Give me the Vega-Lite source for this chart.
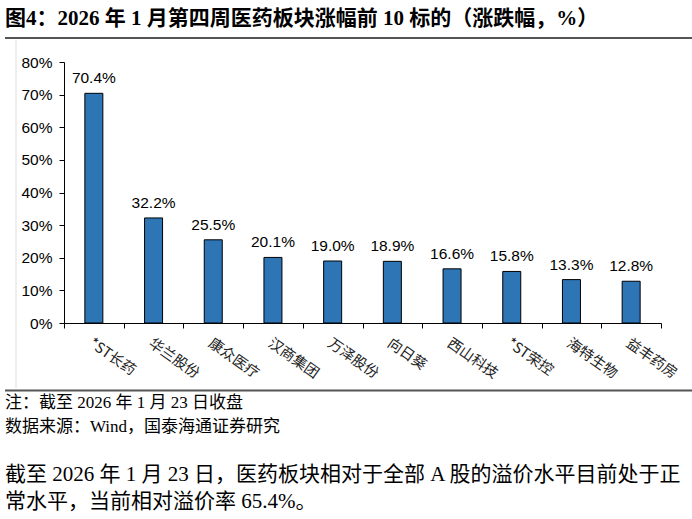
{
  "$schema": "https://vega.github.io/schema/vega-lite/v6.json",
  "width": 597,
  "height": 261,
  "autosize": "none",
  "padding": {"left": 64, "top": 62, "right": 31, "bottom": 196},
  "background": "white",
  "config": {"view": {"stroke": null}},
  "title": {
    "text": "图4：2026 年 1 月第四周医药板块涨幅前 10 标的（涨跌幅，%）",
    "anchor": "start",
    "frame": "group",
    "dx": -59,
    "offset": 8,
    "font": "Liberation Serif, Noto Sans CJK SC",
    "fontSize": 21,
    "fontWeight": "bold",
    "color": "#000000"
  },
  "datasets": {
    "stocks": [
      {"name": "*ST长药", "change": 0.704},
      {"name": "华兰股份", "change": 0.322},
      {"name": "康众医疗", "change": 0.255},
      {"name": "汉商集团", "change": 0.201},
      {"name": "万泽股份", "change": 0.190},
      {"name": "向日葵", "change": 0.189},
      {"name": "西山科技", "change": 0.166},
      {"name": "*ST荣控", "change": 0.158},
      {"name": "海特生物", "change": 0.133},
      {"name": "益丰药房", "change": 0.128}
    ],
    "notes": [
      {"line": "注：截至 2026 年 1 月 23 日收盘", "row": 0},
      {"line": "数据来源：Wind，国泰海通证券研究", "row": 1}
    ],
    "body": [
      {"line": "截至 2026 年 1 月 23 日，医药板块相对于全部 A 股的溢价水平目前处于正", "row": 0},
      {"line": "常水平，当前相对溢价率 65.4%。", "row": 1}
    ],
    "frame": [{"part": "frame"}]
  },
  "layer": [
    {
      "data": {"name": "stocks"},
      "encoding": {
        "x": {
          "field": "name",
          "type": "nominal",
          "sort": null,
          "scale": {"paddingInner": 0, "paddingOuter": 0},
          "axis": {
            "title": null,
            "tickBand": "extent",
            "tickSize": 5,
            "tickColor": "#000000",
            "domainColor": "#000000",
            "labelAngle": 35,
            "labelAlign": "left",
            "labelBaseline": "top",
            "labelPadding": 8,
            "labelFont": "Noto Sans CJK SC",
            "labelFontSize": 14.5,
            "labelColor": "#222222"
          }
        },
        "y": {
          "field": "change",
          "type": "quantitative",
          "scale": {"domain": [0, 0.8], "nice": false},
          "axis": {
            "title": null,
            "values": [0, 0.1, 0.2, 0.3, 0.4, 0.5, 0.6, 0.7, 0.8],
            "format": ".0%",
            "grid": false,
            "tickSize": 5,
            "tickColor": "#000000",
            "domainColor": "#000000",
            "labelPadding": 7,
            "labelFont": "Liberation Sans",
            "labelFontSize": 15.5,
            "labelColor": "#000000",
            "labelOverlap": false
          }
        }
      },
      "layer": [
        {
          "mark": {"type": "bar", "size": 18, "fill": "#2E75B6", "stroke": "#000000", "strokeWidth": 1}
        },
        {
          "mark": {"type": "text", "baseline": "alphabetic", "dy": -10, "font": "Liberation Sans", "fontSize": 15.5, "color": "#000000"},
          "encoding": {
            "text": {"field": "change", "type": "quantitative", "format": ".1%"}
          }
        }
      ]
    },
    {
      "data": {"name": "frame"},
      "mark": {"type": "rule", "color": "#555555", "strokeWidth": 2},
      "encoding": {"x": {"value": -59}, "x2": {"value": 628}, "y": {"value": -24}}
    },
    {
      "data": {"name": "frame"},
      "mark": {"type": "rule", "color": "#555555", "strokeWidth": 2},
      "encoding": {"x": {"value": -59}, "x2": {"value": 628}, "y": {"value": 328.5}}
    },
    {
      "data": {"name": "frame"},
      "mark": {"type": "rule", "color": "#dddddd", "strokeWidth": 1},
      "encoding": {"x": {"value": -48}, "y": {"value": -22}, "y2": {"value": 326}}
    },
    {
      "data": {"name": "notes"},
      "mark": {"type": "text", "align": "left", "baseline": "middle", "font": "Liberation Serif, Noto Sans CJK SC", "fontSize": 17, "color": "#000000"},
      "encoding": {
        "x": {"value": -59},
        "y": {"field": "row", "type": "quantitative", "scale": {"domain": [0, 1], "range": [341, 364.5]}, "axis": null},
        "text": {"field": "line"}
      }
    },
    {
      "data": {"name": "body"},
      "mark": {"type": "text", "align": "left", "baseline": "middle", "font": "Liberation Serif, Noto Sans CJK SC", "fontSize": 21, "color": "#000000"},
      "encoding": {
        "x": {"value": -59},
        "y": {"field": "row", "type": "quantitative", "scale": {"domain": [0, 1], "range": [413, 440]}, "axis": null},
        "text": {"field": "line"}
      }
    }
  ],
  "resolve": {"scale": {"y": "independent"}, "axis": {"y": "independent"}}
}
